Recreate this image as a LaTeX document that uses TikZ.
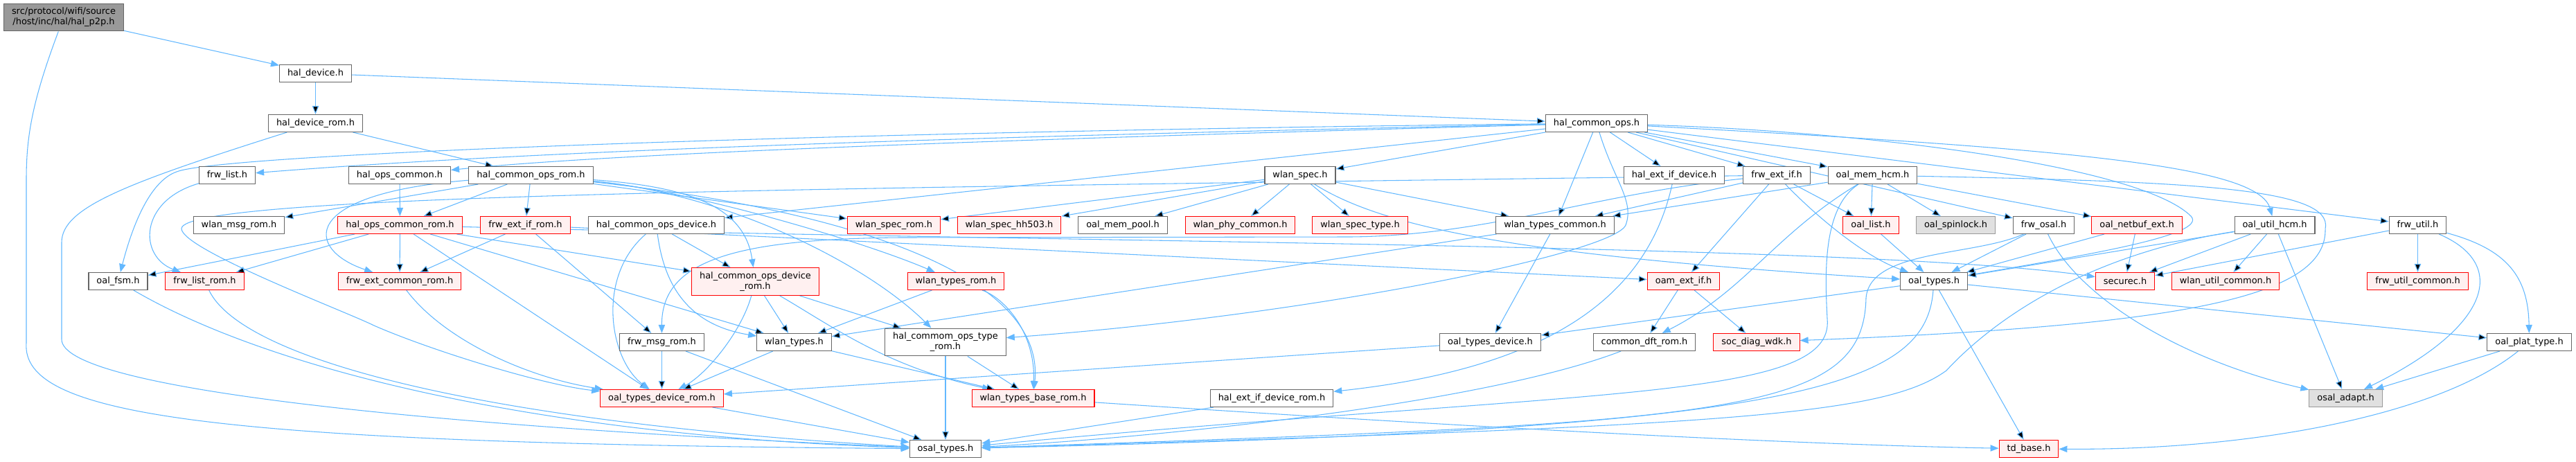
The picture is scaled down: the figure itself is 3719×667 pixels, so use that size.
\documentclass[tikz,border=0pt]{standalone}
\usepackage{fontspec}
\setmainfont{DejaVu Sans}
\usetikzlibrary{arrows.meta,backgrounds}

\definecolor{linkblue}{HTML}{63B8FF}
\definecolor{framegray}{HTML}{666666}
\definecolor{rootfill}{HTML}{999999}
\definecolor{undocfill}{HTML}{E0E0E0}
\definecolor{redframe}{HTML}{FF0000}
\definecolor{redfill}{HTML}{FFF0F0}

\tikzset{
  hfile/.style={draw=framegray, fill=white, line width=0.8pt, inner xsep=8.6pt, inner ysep=4.5pt,
    minimum height=18.75pt, align=center, font=\fontsize{9.7}{11.2}\selectfont},
  hfilered/.style={hfile, draw=redframe, fill=redfill},
  hfileroot/.style={hfile, fill=rootfill},
  hfileext/.style={hfile, draw=rootfill, fill=undocfill},
  incl/.style={draw=linkblue, line width=0.8pt, -{Triangle[length=9pt,width=7pt]}},
}

\begin{document}
\begin{tikzpicture}[x=0.75pt,y=-0.75pt]
\useasboundingbox (0,0) rectangle (3719,667);

% the file itself
\node[hfileroot] (p2p) at (92,25) {src/protocol/wifi/source\\/host/inc/hal/hal\_p2p.h};

% headers, row by row
\node[hfile] (haldev) at (455.5,106) {hal\_device.h};
\node[hfile] (haldevrom) at (455.5,178) {hal\_device\_rom.h};
\node[hfile] (halops) at (2305,178) {hal\_common\_ops.h};

\node[hfile] (frwlist) at (328,253) {frw\_list.h};
\node[hfile] (halopscom) at (577,253) {hal\_ops\_common.h};
\node[hfile] (halopsrom) at (766.5,253) {hal\_common\_ops\_rom.h};
\node[hfile] (wlanspec) at (1877,253) {wlan\_spec.h};
\node[hfile] (halextdev) at (2417,253) {hal\_ext\_if\_device.h};
\node[hfile] (frwext) at (2565,253) {frw\_ext\_if.h};
\node[hfile] (memhcm) at (2703.5,253) {oal\_mem\_hcm.h};

\node[hfile] (wlanmsg) at (345,325) {wlan\_msg\_rom.h};
\node[hfilered] (halopscomrom) at (577.5,325) {hal\_ops\_common\_rom.h};
\node[hfilered] (frwextrom) at (758.5,325) {frw\_ext\_if\_rom.h};
\node[hfile] (halopsdev) at (947.5,325) {hal\_common\_ops\_device.h};
\node[hfilered] (specrom) at (1290.5,325) {wlan\_spec\_rom.h};
\node[hfilered] (spechh) at (1457,325) {wlan\_spec\_hh503.h};
\node[hfile] (mempool) at (1621,325) {oal\_mem\_pool.h};
\node[hfilered] (phycom) at (1790.5,325) {wlan\_phy\_common.h};
\node[hfilered] (spectype) at (1963.5,325) {wlan\_spec\_type.h};
\node[hfile] (typescom) at (2245,325) {wlan\_types\_common.h};
\node[hfilered] (oallist) at (2701,325) {oal\_list.h};
\node[hfileext] (spinlock) at (2823.5,325) {oal\_spinlock.h};
\node[hfile] (frwosal) at (2950.5,325) {frw\_osal.h};
\node[hfilered] (netbuf) at (3085,325) {oal\_netbuf\_ext.h};
\node[hfile] (utilhcm) at (3284,325) {oal\_util\_hcm.h};
\node[hfile] (frwutil) at (3490.5,325) {frw\_util.h};

\node[hfile] (oalfsm) at (170.5,406) {oal\_fsm.h};
\node[hfilered] (frwlistrom) at (295.5,406) {frw\_list\_rom.h};
\node[hfilered] (frwextcom) at (577,406) {frw\_ext\_common\_rom.h};
\node[hfilered] (halopsdevrom) at (1090.5,406.5) {hal\_common\_ops\_device\\\_rom.h};
\node[hfilered] (typesrom) at (1380,406) {wlan\_types\_rom.h};
\node[hfilered] (oamext) at (2430.5,406) {oam\_ext\_if.h};
\node[hfile] (oaltypes) at (2792,406) {oal\_types.h};
\node[hfilered] (securec) at (3068,406) {securec.h};
\node[hfilered] (utilcom) at (3213,406) {wlan\_util\_common.h};
\node[hfilered] (frwutilcom) at (3490.5,406) {frw\_util\_common.h};

\node[hfile] (frwmsg) at (955.5,494) {frw\_msg\_rom.h};
\node[hfile] (wlantypes) at (1146.5,494) {wlan\_types.h};
\node[hfile] (opstyperom) at (1365,494) {hal\_commom\_ops\_type\\\_rom.h};
\node[hfile] (typesdev) at (2151.5,494) {oal\_types\_device.h};
\node[hfile] (dftrom) at (2374,494) {common\_dft\_rom.h};
\node[hfilered] (socdiag) at (2536,494) {soc\_diag\_wdk.h};
\node[hfile] (plattype) at (3651.5,494) {oal\_plat\_type.h};

\node[hfilered] (typesdevrom) at (955.5,575) {oal\_types\_device\_rom.h};
\node[hfilered] (typesbase) at (1491.5,575) {wlan\_types\_base\_rom.h};
\node[hfile] (extdevrom) at (1836,575) {hal\_ext\_if\_device\_rom.h};
\node[hfileext] (osaladapt) at (3386.5,575) {osal\_adapt.h};

\node[hfile] (osaltypes) at (1365,648) {osal\_types.h};
\node[hfilered] (tdbase) at (2929,648) {td\_base.h};

% bends of the long links
\coordinate (w1) at (38,260);
\coordinate (w1b) at (38,495);
\coordinate (w2) at (89,350);
\coordinate (w2b) at (89,490);
\coordinate (w3) at (255,248);
\coordinate (w4) at (2347,325);
\coordinate (w5) at (3163,312);
\coordinate (w6) at (3357,330);
\coordinate (w7) at (2638,460);
\coordinate (w8) at (2694,430);
\coordinate (w9) at (262,330);
\coordinate (w10) at (540,470);
\coordinate (w12) at (2810,535);
\coordinate (w13) at (1950,342);
\coordinate (w14) at (1300,343);

\begin{pgfonlayer}{background}
% hal_p2p.h
\draw[incl] (p2p) -- (haldev);
\draw[incl] (p2p) .. controls (45,150) and (38,200) .. (w1) -- (w1b) .. controls (30,600) and (300,640) .. (osaltypes);

% hal_device.h
\draw[incl] (haldev) edge (haldevrom) edge (halops);

% hal_device_rom.h
\draw[incl] (haldevrom) edge (halopsrom);
\draw[incl] (haldevrom) .. controls (180,265) and (89,300) .. (w2) -- (w2b) .. controls (89,560) and (600,615) .. (osaltypes);

% hal_common_ops.h
\draw[incl] (halops) edge (halopsdev) edge (wlanspec) edge (typescom) edge (halextdev)
  edge (frwext) edge (memhcm) edge (frwosal) edge (frwutil);
\draw[incl] (halops) .. controls (1500,195) and (800,215) .. (frwlist);
\draw[incl] (halops) .. controls (1500,200) and (900,220) .. (halopscom);
\draw[incl] (halops) .. controls (3000,215) and (3260,240) .. (utilhcm);
\draw[incl] (halops) .. controls (1200,190) and (320,222) .. (w3) .. controls (215,262) and (190,330) .. (oalfsm);
\draw[incl] (halops) .. controls (2330,260) and (2360,290) .. (w4) .. controls (2330,365) and (1900,455) .. (opstyperom);
\draw[incl] (halops) .. controls (2700,190) and (3090,240) .. (w5) .. controls (3190,340) and (3000,370) .. (oaltypes);

% hal_ops_common.h
\draw[incl] (halopscom) -- (halopscomrom);

% hal_common_ops_rom.h
\draw[incl] (halopsrom) edge (halopscomrom) edge (frwextrom) edge (wlanmsg) edge (specrom);
\draw[incl] (halopsrom) .. controls (430,280) and (440,360) .. (frwextcom);
\draw[incl] (halopsrom) .. controls (1000,270) and (1075,300) .. (halopsdevrom);
\draw[incl] (halopsrom) .. controls (1000,275) and (1250,350) .. (typesrom);
\draw[incl] (halopsrom) .. controls (1050,280) and (1250,380) .. (opstyperom);
\draw[incl] (halopsrom) .. controls (1200,300) and (1510,390) .. (typesbase);

% hal_ops_common_rom.h
\draw[incl] (halopscomrom) edge (oalfsm) edge (frwlistrom) edge (frwextcom) edge (typesdevrom)
  edge (halopsdevrom) edge (wlantypes);
\draw[incl] (halopscomrom) .. controls (1500,350) and (2700,352) .. (securec);

% frw_ext_if_rom.h
\draw[incl] (frwextrom) edge (frwextcom) edge (frwmsg) edge (oamext);

% hal_common_ops_device.h
\draw[incl] (halopsdev) edge (halopsdevrom);
\draw[incl] (halopsdev) .. controls (960,420) and (1000,470) .. (wlantypes);
\draw[incl] (halopsdev) .. controls (860,400) and (880,520) .. (typesdevrom);

% frw_list.h
\draw[incl] (frwlist) .. controls (200,290) and (200,370) .. (frwlistrom);

% wlan_spec.h
\draw[incl] (wlanspec) edge (specrom) edge (spechh) edge (mempool) edge (phycom)
  edge (spectype) edge (typescom);
\draw[incl] (wlanspec) .. controls (2000,330) and (2200,370) .. (oaltypes);

% wlan_types_common.h
\draw[incl] (typescom) edge (typesdev) edge (wlantypes);

% hal_ext_if_device.h
\draw[incl] (halextdev) .. controls (2380,420) and (2250,530) .. (extdevrom);

% frw_ext_if.h
\draw[incl] (frwext) edge (typescom) edge (oamext) edge (oallist);
\draw[incl] (frwext) .. controls (2620,310) and (2690,370) .. (oaltypes);
\draw[incl] (frwext) .. controls (2300,280) and (2150,340) .. (w13) -- (w14)
  .. controls (1050,345) and (955,380) .. (frwmsg);
\draw[incl] (frwext) .. controls (1200,272) and (265,280) .. (w9) .. controls (262,360) and (500,450) .. (w10)
  .. controls (620,505) and (780,555) .. (typesdevrom);

% oal_mem_hcm.h
\draw[incl] (memhcm) edge (oallist) edge (spinlock) edge (netbuf) edge (typescom);
\draw[incl] (memhcm) .. controls (2560,340) and (2520,420) .. (dftrom);
\draw[incl] (memhcm) .. controls (2630,300) and (2635,400) .. (w7) .. controls (2650,580) and (2300,560) .. (osaltypes);
\draw[incl] (memhcm) .. controls (3150,262) and (3370,270) .. (w6) .. controls (3360,430) and (3150,470) .. (socdiag);

% oam_ext_if.h
\draw[incl] (oamext) edge (dftrom) edge (socdiag);

% oal_list.h
\draw[incl] (oallist) -- (oaltypes);

% frw_osal.h
\draw[incl] (frwosal) -- (oaltypes);
\draw[incl] (frwosal) .. controls (3000,430) and (3150,520) .. (osaladapt);
\draw[incl] (frwosal) .. controls (2850,370) and (2700,360) .. (w8) .. controls (2690,600) and (2500,610) .. (osaltypes);

% oal_netbuf_ext.h
\draw[incl] (netbuf) edge (securec) edge (oaltypes);

% oal_util_hcm.h
\draw[incl] (utilhcm) edge (securec) edge (utilcom) edge (osaladapt) edge (oaltypes);
\draw[incl] (utilhcm) .. controls (3000,370) and (2870,470) .. (w12) .. controls (2720,600) and (2500,615) .. (osaltypes);

% frw_util.h
\draw[incl] (frwutil) edge (frwutilcom) edge (securec);
\draw[incl] (frwutil) .. controls (3620,380) and (3600,470) .. (osaladapt);
\draw[incl] (frwutil) .. controls (3620,360) and (3650,400) .. (plattype);

% oal_types.h
\draw[incl] (oaltypes) edge (typesdev) edge (plattype) edge (tdbase);
\draw[incl] (oaltypes) .. controls (2780,560) and (2600,620) .. (osaltypes);

% common_dft_rom.h
\draw[incl] (dftrom) .. controls (2150,580) and (1700,630) .. (osaltypes);

% oal_types_device.h
\draw[incl] (typesdev) -- (typesdevrom);

% oal_plat_type.h
\draw[incl] (plattype) -- (osaladapt);
\draw[incl] (plattype) .. controls (3520,600) and (3250,650) .. (tdbase);

% the rom headers
\draw[incl] (oalfsm) .. controls (400,540) and (800,630) .. (osaltypes);
\draw[incl] (frwlistrom) .. controls (350,520) and (700,610) .. (osaltypes);
\draw[incl] (frwextcom) .. controls (640,490) and (760,545) .. (typesdevrom);
\draw[incl] (halopsdevrom) edge (wlantypes) edge (opstyperom);
\draw[incl] (halopsdevrom) .. controls (1070,480) and (1020,540) .. (typesdevrom);
\draw[incl] (halopsdevrom) .. controls (1200,470) and (1280,530) .. (typesbase);
\draw[incl] (typesrom) edge (wlantypes);
\draw[incl] (typesrom) .. controls (1450,430) and (1495,480) .. (typesbase);
\draw[incl] (frwmsg) edge (typesdevrom) edge (osaltypes);
\draw[incl] (wlantypes) edge (typesdevrom) edge (typesbase);
\draw[incl] (opstyperom) edge (osaltypes) edge (typesbase);
\draw[incl] (typesdevrom) -- (osaltypes);
\draw[incl] (extdevrom) -- (osaltypes);
\draw[incl] (typesbase) .. controls (1900,602) and (2500,640) .. (tdbase);
\end{pgfonlayer}
\end{tikzpicture}
\end{document}
